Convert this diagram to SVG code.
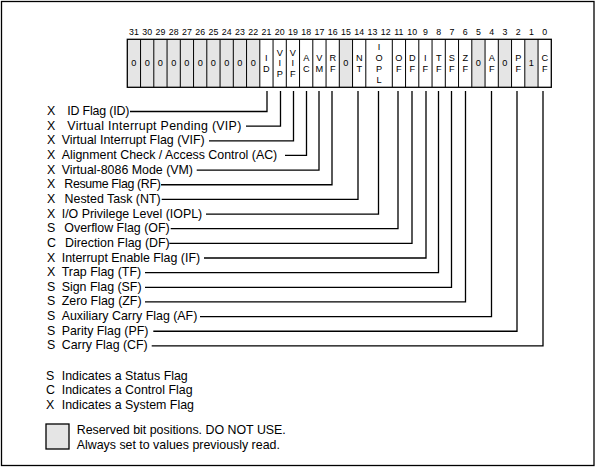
<svg xmlns="http://www.w3.org/2000/svg" width="596" height="468" viewBox="0 0 596 468">
<style>
text{font-family:"Liberation Sans",Arial,sans-serif;fill:#000}
.num{font-size:8.8px;text-anchor:middle}
.cell{font-size:9.2px;text-anchor:middle}
.lbl{font-size:12.4px}
.res{fill:#e5e5e5;stroke:none}
.div{stroke:#000;stroke-width:1}
.conn{fill:none;stroke:#000;stroke-width:1.3}
</style>
<rect x="1.5" y="1.5" width="592.5" height="464" fill="#fff" stroke="#000" stroke-width="1.3"/>

<g id="bit-numbers">
<text class="num" x="133.9" y="34.5">31</text><text class="num" x="147.2" y="34.5">30</text><text class="num" x="160.4" y="34.5">29</text><text class="num" x="173.7" y="34.5">28</text><text class="num" x="186.9" y="34.5">27</text><text class="num" x="200.2" y="34.5">26</text><text class="num" x="213.4" y="34.5">25</text><text class="num" x="226.7" y="34.5">24</text><text class="num" x="239.9" y="34.5">23</text><text class="num" x="253.2" y="34.5">22</text><text class="num" x="266.4" y="34.5">21</text><text class="num" x="279.7" y="34.5">20</text><text class="num" x="292.9" y="34.5">19</text><text class="num" x="306.2" y="34.5">18</text><text class="num" x="319.4" y="34.5">17</text><text class="num" x="332.7" y="34.5">16</text><text class="num" x="345.9" y="34.5">15</text><text class="num" x="359.2" y="34.5">14</text><text class="num" x="372.4" y="34.5">13</text><text class="num" x="385.7" y="34.5">12</text><text class="num" x="398.9" y="34.5">11</text><text class="num" x="412.2" y="34.5">10</text><text class="num" x="425.4" y="34.5">9</text><text class="num" x="438.7" y="34.5">8</text><text class="num" x="451.9" y="34.5">7</text><text class="num" x="465.2" y="34.5">6</text><text class="num" x="478.4" y="34.5">5</text><text class="num" x="491.7" y="34.5">4</text><text class="num" x="504.9" y="34.5">3</text><text class="num" x="518.2" y="34.5">2</text><text class="num" x="531.4" y="34.5">1</text><text class="num" x="544.7" y="34.5">0</text>
</g>

<g id="register">
<rect class="res" x="127.3" y="39.3" width="132.5" height="48"/>
<rect class="res" x="339.3" y="39.3" width="13.25" height="48"/>
<rect class="res" x="471.8" y="39.3" width="13.25" height="48"/>
<rect class="res" x="498.3" y="39.3" width="13.25" height="48"/>
<rect class="res" x="524.8" y="39.3" width="13.25" height="48"/>
<path class="div" d="M140.55 39.3V87.3M153.8 39.3V87.3M167.05 39.3V87.3M180.3 39.3V87.3M193.55 39.3V87.3M206.8 39.3V87.3M220.05 39.3V87.3M233.3 39.3V87.3M246.55 39.3V87.3M259.8 39.3V87.3M273.05 39.3V87.3M286.3 39.3V87.3M299.55 39.3V87.3M312.8 39.3V87.3M326.05 39.3V87.3M339.3 39.3V87.3M352.55 39.3V87.3M365.8 39.3V87.3M392.3 39.3V87.3M405.55 39.3V87.3M418.8 39.3V87.3M432.05 39.3V87.3M445.3 39.3V87.3M458.55 39.3V87.3M471.8 39.3V87.3M485.05 39.3V87.3M498.3 39.3V87.3M511.55 39.3V87.3M524.8 39.3V87.3M538.05 39.3V87.3"/>
<rect x="127.3" y="39.3" width="424" height="48" fill="none" stroke="#000" stroke-width="1.3"/>
</g>

<g id="reserved-31-22">
<text class="cell" x="133.9" y="66.3">0</text><text class="cell" x="147.2" y="66.3">0</text><text class="cell" x="160.4" y="66.3">0</text><text class="cell" x="173.7" y="66.3">0</text><text class="cell" x="186.9" y="66.3">0</text><text class="cell" x="200.2" y="66.3">0</text><text class="cell" x="213.4" y="66.3">0</text><text class="cell" x="226.7" y="66.3">0</text><text class="cell" x="239.9" y="66.3">0</text><text class="cell" x="253.2" y="66.3">0</text>
</g>
<g id="bit-ID"><text class="cell" x="266.4" y="61.05">I<tspan x="266.4" dy="10.5">D</tspan></text></g>
<g id="bit-VIP"><text class="cell" x="279.7" y="55.8">V<tspan x="279.7" dy="10.5">I</tspan><tspan x="279.7" dy="10.5">P</tspan></text></g>
<g id="bit-VIF"><text class="cell" x="292.9" y="55.8">V<tspan x="292.9" dy="10.5">I</tspan><tspan x="292.9" dy="10.5">F</tspan></text></g>
<g id="bit-AC"><text class="cell" x="306.2" y="61.05">A<tspan x="306.2" dy="10.5">C</tspan></text></g>
<g id="bit-VM"><text class="cell" x="319.4" y="61.05">V<tspan x="319.4" dy="10.5">M</tspan></text></g>
<g id="bit-RF"><text class="cell" x="332.7" y="61.05">R<tspan x="332.7" dy="10.5">F</tspan></text></g>
<g id="reserved-15"><text class="cell" x="345.9" y="66.3">0</text></g>
<g id="bit-NT"><text class="cell" x="359.2" y="61.05">N<tspan x="359.2" dy="10.5">T</tspan></text></g>
<g id="bit-IOPL"><text class="cell" x="379.05" y="49.5">I<tspan x="379.05" dy="11.2">O</tspan><tspan x="379.05" dy="11.2">P</tspan><tspan x="379.05" dy="11.2">L</tspan></text></g>
<g id="bit-OF"><text class="cell" x="398.9" y="61.05">O<tspan x="398.9" dy="10.5">F</tspan></text></g>
<g id="bit-DF"><text class="cell" x="412.2" y="61.05">D<tspan x="412.2" dy="10.5">F</tspan></text></g>
<g id="bit-IF"><text class="cell" x="425.4" y="61.05">I<tspan x="425.4" dy="10.5">F</tspan></text></g>
<g id="bit-TF"><text class="cell" x="438.7" y="61.05">T<tspan x="438.7" dy="10.5">F</tspan></text></g>
<g id="bit-SF"><text class="cell" x="451.9" y="61.05">S<tspan x="451.9" dy="10.5">F</tspan></text></g>
<g id="bit-ZF"><text class="cell" x="465.2" y="61.05">Z<tspan x="465.2" dy="10.5">F</tspan></text></g>
<g id="reserved-5"><text class="cell" x="478.4" y="66.3">0</text></g>
<g id="bit-AF"><text class="cell" x="491.7" y="61.05">A<tspan x="491.7" dy="10.5">F</tspan></text></g>
<g id="reserved-3"><text class="cell" x="504.9" y="66.3">0</text></g>
<g id="bit-PF"><text class="cell" x="518.2" y="61.05">P<tspan x="518.2" dy="10.5">F</tspan></text></g>
<g id="reserved-1"><text class="cell" x="531.4" y="66.3">1</text></g>
<g id="bit-CF"><text class="cell" x="544.7" y="61.05">C<tspan x="544.7" dy="10.5">F</tspan></text></g>

<g id="label-ID"><text class="lbl" x="47" y="115">X</text><text class="lbl" x="67.3" y="115" textLength="62">ID Flag (ID)</text></g>
<g id="label-VIP"><text class="lbl" x="47" y="129.65">X</text><text class="lbl" x="67.3" y="129.65" textLength="174">Virtual Interrupt Pending (VIP)</text></g>
<g id="label-VIF"><text class="lbl" x="47" y="144.3">X</text><text class="lbl" x="61.7" y="144.3">Virtual Interrupt Flag (VIF)</text></g>
<g id="label-AC"><text class="lbl" x="47" y="158.95">X</text><text class="lbl" x="61.7" y="158.95">Alignment Check / Access Control (AC)</text></g>
<g id="label-VM"><text class="lbl" x="47" y="173.6">X</text><text class="lbl" x="61.7" y="173.6">Virtual-8086 Mode (VM)</text></g>
<g id="label-RF"><text class="lbl" x="47" y="188.25">X</text><text class="lbl" x="64.3" y="188.25" textLength="96.5">Resume Flag (RF)</text></g>
<g id="label-NT"><text class="lbl" x="47" y="202.9">X</text><text class="lbl" x="64.6" y="202.9" textLength="96">Nested Task (NT)</text></g>
<g id="label-IOPL"><text class="lbl" x="47" y="217.55">X</text><text class="lbl" x="61.7" y="217.55">I/O Privilege Level (IOPL)</text></g>
<g id="label-OF"><text class="lbl" x="47" y="232.2">S</text><text class="lbl" x="64.3" y="232.2">Overflow Flag (OF)</text></g>
<g id="label-DF"><text class="lbl" x="47" y="246.85">C</text><text class="lbl" x="65" y="246.85">Direction Flag (DF)</text></g>
<g id="label-IF"><text class="lbl" x="47" y="261.5">X</text><text class="lbl" x="61.7" y="261.5">Interrupt Enable Flag (IF)</text></g>
<g id="label-TF"><text class="lbl" x="47" y="276.15">X</text><text class="lbl" x="61.7" y="276.15">Trap Flag (TF)</text></g>
<g id="label-SF"><text class="lbl" x="47" y="290.8">S</text><text class="lbl" x="61.7" y="290.8">Sign Flag (SF)</text></g>
<g id="label-ZF"><text class="lbl" x="47" y="305.45">S</text><text class="lbl" x="61.7" y="305.45">Zero Flag (ZF)</text></g>
<g id="label-AF"><text class="lbl" x="47" y="320.1">S</text><text class="lbl" x="61.7" y="320.1">Auxiliary Carry Flag (AF)</text></g>
<g id="label-PF"><text class="lbl" x="47" y="334.75">S</text><text class="lbl" x="61.7" y="334.75">Parity Flag (PF)</text></g>
<g id="label-CF"><text class="lbl" x="47" y="349.4">S</text><text class="lbl" x="61.7" y="349.4">Carry Flag (CF)</text></g>

<g id="connectors" class="conn">
<path d="M130 111.5H267V91"/>
<path d="M246 126.15H280.5V91"/>
<path d="M209 140.8H293.5V91"/>
<path d="M285 155.45H306.5V91"/>
<path d="M196.7 170.1H319V91"/>
<path d="M161 184.75H332V91"/>
<path d="M161.7 199.4H358V91"/>
<path d="M206 214.05H378.5V91"/>
<path d="M170.7 228.7H398V91"/>
<path d="M169.3 243.35H412V91"/>
<path d="M204 258H426V91"/>
<path d="M145 272.65H438.5V91"/>
<path d="M145 287.3H451.5V91"/>
<path d="M145 301.95H465.5V91"/>
<path d="M200 316.6H491.5V91"/>
<path d="M153.3 331.25H517V91"/>
<path d="M151.7 345.9H543V91"/>
</g>

<g id="legend">
<text class="lbl" x="46" y="379.5">S</text><text class="lbl" x="61.7" y="379.5">Indicates a Status Flag</text>
<text class="lbl" x="46" y="393.8">C</text><text class="lbl" x="61.7" y="393.8">Indicates a Control Flag</text>
<text class="lbl" x="46" y="408.5">X</text><text class="lbl" x="61.7" y="408.5">Indicates a System Flag</text>
<rect x="46" y="424" width="23" height="25" fill="#e5e5e5" stroke="#000" stroke-width="1.3"/>
<text class="lbl" x="76.7" y="434.3">Reserved bit positions. DO NOT USE.</text>
<text class="lbl" x="76.7" y="448.8">Always set to values previously read.</text>
</g>
</svg>
